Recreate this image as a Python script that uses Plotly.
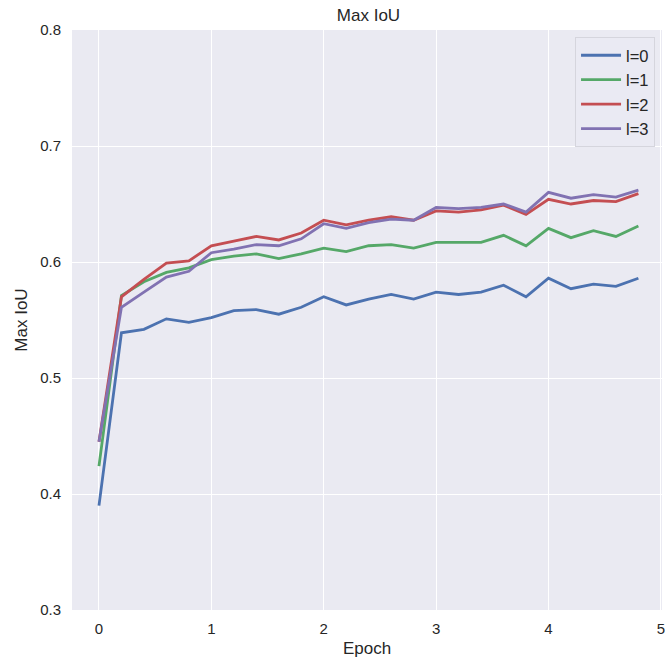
import plotly.graph_objects as go

epochs = [round(0.2 * i, 1) for i in range(25)]
l0 = [0.390, 0.539, 0.542, 0.551, 0.548, 0.552, 0.558, 0.559, 0.555, 0.561, 0.570, 0.563,
      0.568, 0.572, 0.568, 0.574, 0.572, 0.574, 0.580, 0.570, 0.586, 0.577, 0.581, 0.579, 0.586]
l1 = [0.424, 0.571, 0.583, 0.591, 0.595, 0.602, 0.605, 0.607, 0.603, 0.607, 0.612, 0.609,
      0.614, 0.615, 0.612, 0.617, 0.617, 0.617, 0.623, 0.614, 0.629, 0.621, 0.627, 0.622, 0.631]
l2 = [0.445, 0.570, 0.585, 0.599, 0.601, 0.614, 0.618, 0.622, 0.619, 0.625, 0.636, 0.632,
      0.636, 0.639, 0.636, 0.644, 0.643, 0.645, 0.649, 0.641, 0.654, 0.650, 0.653, 0.652, 0.659]
l3 = [0.445, 0.561, 0.574, 0.587, 0.592, 0.608, 0.611, 0.615, 0.614, 0.620, 0.633, 0.629,
      0.634, 0.637, 0.636, 0.647, 0.646, 0.647, 0.650, 0.643, 0.660, 0.655, 0.658, 0.656, 0.662]
names = ["l=0", "l=1", "l=2", "l=3"]
colors = ["#4C72B0", "#55A868", "#C44E52", "#8172B2"]

font = "Liberation Sans, Arial, sans-serif"
fig = go.Figure()
for name, ys, c in zip(names, [l0, l1, l2, l3], colors):
    fig.add_trace(go.Scatter(x=epochs, y=ys, mode="lines", name=name,
                             line=dict(color=c, width=2.8)))

fig.update_layout(
    width=665, height=664,
    margin=dict(l=72, r=0, t=30, b=54),
    paper_bgcolor="white", plot_bgcolor="#EAEAF2",
    font=dict(family=font, size=15, color="#262626"),
    title=dict(text="Max IoU", x=(72 + 593 / 2) / 665, xanchor="center",
               y=1 - 15 / 664, yanchor="middle", font=dict(size=17, color="#262626")),
    showlegend=True,
    legend=dict(x=1 - 7 / 593, y=1 - 7 / 580, xanchor="right", yanchor="top",
                bgcolor="rgba(234,234,242,0.8)", bordercolor="#D5D5DD", borderwidth=1,
                font=dict(size=16.5), tracegroupgap=0, itemwidth=40),
)
fig.update_xaxes(range=[-0.24, 5.01], tickvals=[0, 1, 2, 3, 4, 5], showgrid=True,
                 gridcolor="white", gridwidth=1.3, zeroline=False, showline=False,
                 ticks="", ticklabelstandoff=8, ticklabeloverflow="allow",
                 title=dict(text="Epoch", font=dict(size=17), standoff=6))
fig.update_yaxes(range=[0.3, 0.8], tickvals=[0.3, 0.4, 0.5, 0.6, 0.7, 0.8],
                 ticktext=["0.3", "0.4", "0.5", "0.6", "0.7", "0.8"], showgrid=True,
                 gridcolor="white", gridwidth=1.3, zeroline=False, showline=False,
                 ticks="", ticklabelstandoff=10,
                 title=dict(text="Max IoU", font=dict(size=17), standoff=8))

fig.write_html("out.html")
